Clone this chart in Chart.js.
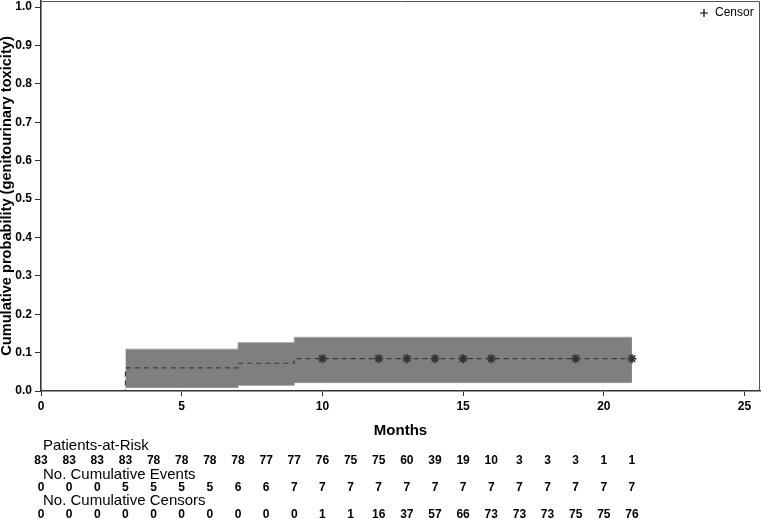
<!DOCTYPE html>
<html>
<head>
<meta charset="utf-8">
<title>Cumulative incidence of genitourinary toxicity</title>
<script src="https://cdn.jsdelivr.net/npm/chart.js@4.4.1/dist/chart.umd.min.js"></script>
<style>
  html, body { margin: 0; padding: 0; background: #fff; }
  #wrap { width: 762px; height: 519px; position: relative; }
</style>
</head>
<body>
<div id="wrap"><canvas id="cif"></canvas></div>
<script>
// ── data ─────────────────────────────────────────────────
const stepTimes   = [0, 3, 7, 9, 21];
const cumInc      = [0, 0.0602, 0.0723, 0.0843, 0.0843];
const bandTimes   = [3, 7, 9, 21];
const bandUpper   = [0.109, 0.126, 0.140, 0.140];
const bandLower   = [0.009, 0.015, 0.022, 0.022];
const censorTimes = [10, 12, 13, 14, 15, 16, 19, 21];
const censorProb  = [0.0843, 0.0843, 0.0843, 0.0843, 0.0843, 0.0843, 0.0843, 0.0843];

// risk table, one column per month
const riskMonths  = [0, 1, 2, 3, 4, 5, 6, 7, 8, 9, 10, 11, 12, 13, 14, 15, 16, 17, 18, 19, 20, 21];
const atRisk      = [83, 83, 83, 83, 78, 78, 78, 78, 77, 77, 76, 75, 75, 60, 39, 19, 10, 3, 3, 3, 1, 1];
const cumEvents   = [0, 0, 0, 5, 5, 5, 5, 6, 6, 7, 7, 7, 7, 7, 7, 7, 7, 7, 7, 7, 7, 7];
const cumCensors  = [0, 0, 0, 0, 0, 0, 0, 0, 0, 0, 1, 1, 16, 37, 57, 66, 73, 73, 73, 75, 75, 76];
const riskRows    = [
    { label: 'Patients-at-Risk',       values: atRisk },
    { label: 'No. Cumulative Events',  values: cumEvents },
    { label: 'No. Cumulative Censors', values: cumCensors }
];

const xTicks = [0, 5, 10, 15, 20, 25];
const yTicks = [0, 0.1, 0.2, 0.3, 0.4, 0.5, 0.6, 0.7, 0.8, 0.9, 1.0];

const pts = (xs, ys) => xs.map((x, i) => ({ x, y: ys[i] }));
const FONT = "'Liberation Sans', Arial, sans-serif";

// scales keep the exact box we give them (no label overhang padding)
const noPad = s => { s.paddingTop = 0; s.paddingBottom = 0; s.paddingLeft = 0; s.paddingRight = 0; };

// ── frame, legend and risk table ─────────────────────────
const extras = {
    id: 'extras',
    afterDraw(chart) {
        const { ctx, chartArea: a, scales: { x } } = chart;
        ctx.save();
        // top/right frame
        ctx.strokeStyle = '#555';
        ctx.lineWidth = 1;
        ctx.beginPath();
        ctx.moveTo(a.left, a.top + 0.5);
        ctx.lineTo(a.right - 0.5, a.top + 0.5);
        ctx.lineTo(a.right - 0.5, a.bottom);
        ctx.stroke();

        // legend
        ctx.fillStyle = '#000';
        ctx.font = '12px ' + FONT;
        ctx.textBaseline = 'middle';
        ctx.textAlign = 'left';
        ctx.fillText('Censor', 715, 13);
        ctx.lineWidth = 1.2;
        ctx.strokeStyle = '#000';
        ctx.beginPath();
        ctx.moveTo(700, 13); ctx.lineTo(708, 13);
        ctx.moveTo(704, 9); ctx.lineTo(704, 17);
        ctx.stroke();

        // risk table
        const labelY = [446, 475, 501];
        const valueY = [461, 488, 515];
        riskRows.forEach((row, r) => {
            ctx.textAlign = 'left';
            ctx.font = '15px ' + FONT;
            ctx.fillText(row.label, 43, labelY[r]);
            ctx.textAlign = 'center';
            ctx.font = 'bold 12px ' + FONT;
            row.values.forEach((v, i) => {
                ctx.fillText(String(v), x.getPixelForValue(riskMonths[i]), valueY[r]);
            });
        });
        ctx.restore();
    }
};

new Chart(document.getElementById('cif'), {
    type: 'line',
    data: {
        datasets: [
            {
                label: 'Censor',
                data: pts(censorTimes, censorProb),
                showLine: false,
                pointStyle: 'star',
                pointRadius: 4.5,
                pointBorderWidth: 1.8,
                pointBorderColor: '#333',
                pointBackgroundColor: '#333',
                order: 0
            },
            {
                label: 'Cumulative incidence',
                data: pts(stepTimes, cumInc),
                stepped: 'before',
                borderColor: '#3c3c3c',
                borderWidth: 1.2,
                borderDash: [5, 4],
                pointRadius: 0,
                fill: false,
                order: 1
            },
            {
                label: 'Upper CL',
                data: pts(bandTimes, bandUpper),
                stepped: 'before',
                borderColor: '#a8a8a8',
                borderWidth: 1,
                backgroundColor: '#7f7f7f',
                pointRadius: 0,
                fill: '+1',
                order: 2
            },
            {
                label: 'Lower CL',
                data: pts(bandTimes, bandLower),
                stepped: 'before',
                borderColor: '#a8a8a8',
                borderWidth: 1,
                pointRadius: 0,
                fill: false,
                order: 3
            }
        ]
    },
    options: {
        responsive: true,
        maintainAspectRatio: false,
        animation: false,
        events: [],
        layout: { autoPadding: false, padding: { top: 1, right: 2, left: 0, bottom: 0 } },
        plugins: { legend: { display: false }, tooltip: { enabled: false } },
        scales: {
            x: {
                type: 'linear',
                min: 0,
                max: 25.55,
                afterBuildTicks: s => { s.ticks = xTicks.map(v => ({ value: v })); },
                afterFit: s => { s.height = 128; noPad(s); },
                ticks: {
                    includeBounds: false,
                    padding: 3,
                    color: '#000',
                    font: { family: FONT, size: 12, weight: 'bold' }
                },
                grid: { drawOnChartArea: false, tickLength: 5, color: '#333' },
                border: { color: '#333', width: 1.6 },
                title: {
                    display: true,
                    text: 'Months',
                    color: '#000',
                    font: { family: FONT, size: 15, weight: 'bold', lineHeight: 1 },
                    padding: { top: 0, bottom: 81 }
                }
            },
            y: {
                min: 0,
                max: 1.016,
                afterBuildTicks: s => { s.ticks = yTicks.map(v => ({ value: v })); },
                afterFit: s => { s.width = 41; noPad(s); },
                ticks: {
                    padding: 3,
                    color: '#000',
                    font: { family: FONT, size: 12, weight: 'bold' },
                    callback: v => Number(v).toFixed(1)
                },
                grid: { drawOnChartArea: false, tickLength: 6, color: '#333' },
                border: { color: '#333', width: 1.6 },
                title: {
                    display: true,
                    text: 'Cumulative probability (genitourinary toxicity)',
                    color: '#000',
                    font: { family: FONT, size: 14.6, weight: 'bold', lineHeight: 1 },
                    padding: { top: 0, bottom: 0 }
                }
            }
        }
    },
    plugins: [extras]
});
</script>
</body>
</html>
